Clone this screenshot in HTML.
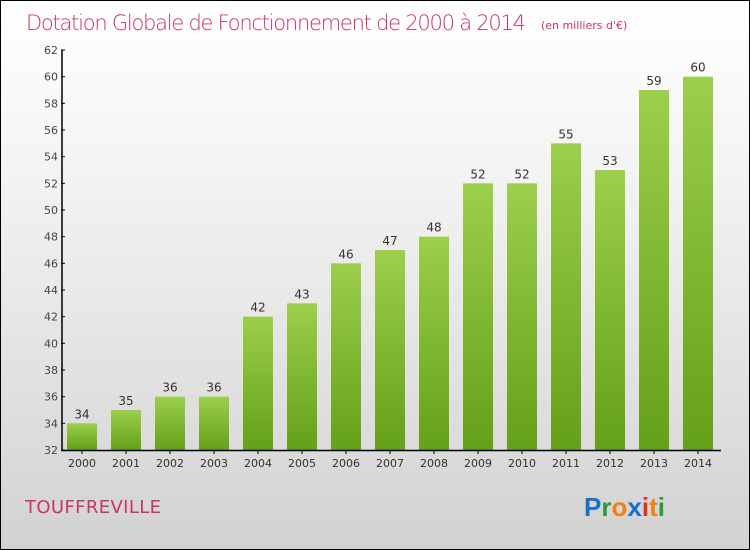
<!DOCTYPE html>
<html><head><meta charset="utf-8"><style>
body{margin:0}
#c{position:relative;width:748px;height:548px;border:1px solid #000;background:linear-gradient(#ffffff,#f4f4f4 30%,#d2d2d2);font-family:"DejaVu Sans","Liberation Sans",sans-serif;overflow:hidden}
</style></head><body>
<div id="c">
<svg id="s" width="748" height="548">
<defs><linearGradient id="g" x1="0" y1="0" x2="0" y2="1"><stop offset="0" stop-color="#9ccf4c"/><stop offset="1" stop-color="#64a018"/></linearGradient></defs>
<text x="25" y="29" font-size="21" fill="#cc3366" style="font-family:'DejaVu Sans',sans-serif;font-weight:200" textLength="500">Dotation Globale de Fonctionnement de 2000 à 2014</text>
<text x="540" y="28" font-size="11" fill="#cc3366">(en milliers d'€)</text>
<text x="24" y="512" font-size="18" fill="#cc3366" textLength="136">TOUFFREVILLE</text>
<text x="583" y="515" font-size="26" font-weight="bold" style="font-family:'Liberation Sans',sans-serif"><tspan fill="#1a6fcc">P</tspan><tspan fill="#2a9a3a">r</tspan><tspan fill="#f08010">o</tspan><tspan fill="#1a6fcc">x</tspan><tspan fill="#e03020">i</tspan><tspan fill="#f08010">t</tspan><tspan fill="#2a9a3a">i</tspan></text>
<g id="plot"></g>
</svg>
</div>
<script>
const years=["2000","2001","2002","2003","2004","2005","2006","2007","2008","2009","2010","2011","2012","2013","2014"];
const values=[34,35,36,36,42,43,46,47,48,52,52,55,53,59,60];
const yTicks=[32,34,36,38,40,42,44,46,48,50,52,54,56,58,60,62];
const NS="http://www.w3.org/2000/svg";
const g=document.getElementById('plot');
const y0=449,yMin=32,yMax=62,yTop=49;
const Y=v=>y0-(v-yMin)*(y0-yTop)/(yMax-yMin);
const X=i=>81+i*44;
function mk(t,a,p){const e=document.createElementNS(NS,t);for(const k in a)e.setAttribute(k,a[k]);(p||g).appendChild(e);return e;}
yTicks.forEach(v=>{
 const l=mk('line',{x1:60,x2:64,y1:Y(v),y2:Y(v),stroke:'#000'});
 
 
 const t=mk('text',{x:57,y:Y(v)+4,'font-size':11,'text-anchor':'end',fill:'#444'});t.textContent=v;
 
 
});
values.forEach((v,i)=>{
 const r=mk('rect',{x:X(i)-15,y:Y(v),width:30,height:y0-Y(v),fill:'url(#g)'});
 
 
 const t=mk('text',{x:X(i),y:Y(v)-5,'font-size':12,'text-anchor':'middle',fill:'#333'});t.textContent=v;
 
 
 const k=mk('line',{x1:X(i),x2:X(i),y1:y0,y2:y0+4,stroke:'#000'});
 
 
 const xl=mk('text',{x:X(i),y:466,'font-size':11,'text-anchor':'middle',fill:'#333'});xl.textContent=years[i];
 
 
});
const ya=mk('line',{x1:61,x2:61,y1:yTop,y2:y0+1,stroke:'#000','stroke-width':1.5});


const xa=mk('line',{x1:60,x2:720,y1:y0+0.5,y2:y0+0.5,stroke:'#000','stroke-width':1.5});


</script>
</body></html>
